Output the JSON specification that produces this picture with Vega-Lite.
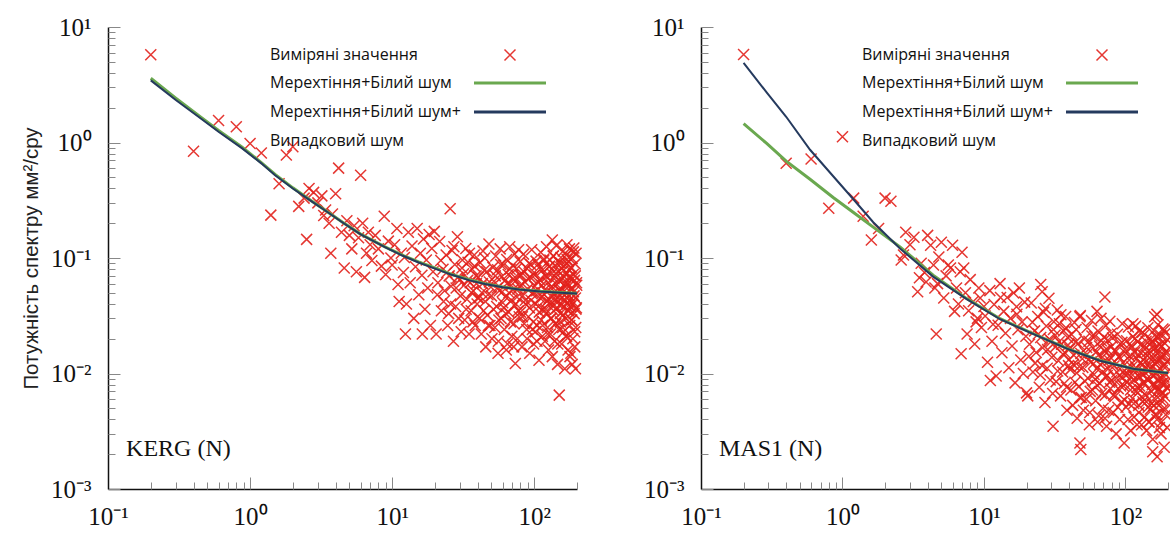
{
  "$schema": "https://vega.github.io/schema/vega-lite/v6.json",
  "padding": {"left": 21, "top": 15, "right": 0, "bottom": 0},
  "spacing": 55,
  "config": {
    "view": {"stroke": null},
    "axis": {"grid": false}
  },
  "datasets": {
    "kergPts": [
      {"f":0.2,"p":5.75},{"f":0.4,"p":0.84},{"f":0.6,"p":1.55},{"f":0.8,"p":1.37},{"f":1.0,"p":0.98},{"f":1.2,"p":0.81},{"f":1.4,"p":0.235},{"f":1.6,"p":0.44},{"f":1.8,"p":0.78},{"f":2.0,"p":0.92},{"f":2.2,"p":0.28},{"f":2.4,"p":0.33},{"f":2.5,"p":0.145},{"f":2.6,"p":0.40},{"f":2.8,"p":0.37},{"f":3.0,"p":0.30},{"f":3.2,"p":0.345},{"f":3.3,"p":0.233},{"f":3.4,"p":0.26},{"f":3.6,"p":0.20},{"f":3.7,"p":0.11},{"f":3.8,"p":0.24},{"f":4.0,"p":0.36},{"f":4.2,"p":0.60},{"f":4.4,"p":0.167},{"f":4.6,"p":0.082},{"f":4.8,"p":0.21},{"f":5.0,"p":0.157},{"f":5.2,"p":0.12},{"f":5.4,"p":0.19},{"f":5.6,"p":0.076},{"f":5.8,"p":0.15},{"f":6.0,"p":0.52},{"f":6.2,"p":0.20},{"f":6.4,"p":0.068},{"f":6.6,"p":0.11},{"f":6.8,"p":0.167},{"f":7.0,"p":0.13},{"f":7.2,"p":0.095},{"f":7.6,"p":0.157},{"f":8.0,"p":0.12},{"f":8.4,"p":0.085},{"f":8.8,"p":0.23},{"f":9.0,"p":0.072},{"f":9.4,"p":0.14},{"f":9.8,"p":0.10},{"f":10.0,"p":0.087},{"f":10.4,"p":0.13},{"f":10.8,"p":0.18},{"f":11.0,"p":0.059},{"f":11.2,"p":0.042},{"f":11.6,"p":0.11},{"f":12.0,"p":0.075},
      {"f":12.2,"p":0.101},{"f":12.4,"p":0.022},{"f":12.6,"p":0.040},{"f":13.0,"p":0.167},{"f":13.4,"p":0.061},{"f":13.8,"p":0.127},{"f":14.2,"p":0.030},{"f":14.6,"p":0.084},{"f":15.0,"p":0.180},{"f":15.4,"p":0.048},{"f":15.8,"p":0.110},{"f":16.2,"p":0.071},{"f":16.3,"p":0.022},{"f":16.6,"p":0.146},{"f":17.0,"p":0.036},{"f":17.4,"p":0.096},{"f":17.8,"p":0.055},{"f":18.2,"p":0.160},{"f":18.6,"p":0.026},{"f":19.0,"p":0.121},{"f":19.4,"p":0.076},{"f":19.8,"p":0.17},
      {"f":20.4,"p":0.022},{"f":21.0,"p":0.061},{"f":21.6,"p":0.139},{"f":22.2,"p":0.035},{"f":22.8,"p":0.080},{"f":23.4,"p":0.052},{"f":24.0,"p":0.106},{"f":24.6,"p":0.026},{"f":25.2,"p":0.070},{"f":25.6,"p":0.267},{"f":25.8,"p":0.040},{"f":26.4,"p":0.116},{"f":27.0,"p":0.019},{"f":27.6,"p":0.088},{"f":28.2,"p":0.055},{"f":28.8,"p":0.153},{"f":29.4,"p":0.030},{"f":30.0,"p":0.065},{"f":30.6,"p":0.023},{"f":31.2,"p":0.096},{"f":31.8,"p":0.073},{"f":32.4,"p":0.029},{"f":33.0,"p":0.121},{"f":33.6,"p":0.044},{"f":34.2,"p":0.092},{"f":34.8,"p":0.022},{"f":35.4,"p":0.061},{"f":36.0,"p":0.035},{"f":36.6,"p":0.080},{"f":37.2,"p":0.052},{"f":37.8,"p":0.106},{"f":38.4,"p":0.026},{"f":39.0,"p":0.070},{"f":39.6,"p":0.040},
      {"f":20.8,"p":0.048},{"f":22.0,"p":0.095},{"f":23.0,"p":0.042},{"f":24.2,"p":0.075},{"f":25.0,"p":0.033},{"f":26.0,"p":0.057},{"f":27.2,"p":0.125},{"f":28.0,"p":0.038},{"f":29.0,"p":0.068},{"f":30.2,"p":0.047},{"f":31.0,"p":0.082},{"f":32.0,"p":0.058},{"f":33.2,"p":0.036},{"f":34.0,"p":0.064},{"f":35.0,"p":0.110},{"f":36.2,"p":0.050},{"f":37.0,"p":0.028},{"f":38.0,"p":0.085},{"f":39.2,"p":0.060},{"f":40.0,"p":0.045},
      {"f":40.8,"p":0.045},{"f":41.6,"p":0.091},{"f":42.4,"p":0.022},{"f":43.2,"p":0.060},{"f":44.0,"p":0.035},{"f":44.8,"p":0.100},{"f":45.6,"p":0.017},{"f":46.4,"p":0.076},{"f":47.2,"p":0.048},{"f":48.0,"p":0.132},{"f":48.8,"p":0.026},{"f":49.6,"p":0.056},{"f":50.4,"p":0.020},{"f":51.2,"p":0.083},{"f":52.0,"p":0.063},{"f":52.8,"p":0.025},{"f":53.6,"p":0.104},{"f":54.4,"p":0.038},{"f":55.2,"p":0.079},{"f":56.0,"p":0.019},{"f":56.8,"p":0.052},{"f":57.6,"p":0.120},{"f":58.4,"p":0.030},{"f":59.2,"p":0.069},{"f":60.0,"p":0.041},{"f":60.8,"p":0.087},{"f":61.6,"p":0.024},{"f":62.4,"p":0.064},{"f":63.2,"p":0.033},{"f":64.0,"p":0.097},{"f":64.8,"p":0.018},{"f":65.6,"p":0.072},{"f":66.4,"p":0.050},{"f":67.2,"p":0.125},{"f":68.0,"p":0.028},{"f":68.8,"p":0.058},{"f":69.6,"p":0.021},{"f":70.4,"p":0.086},{"f":71.2,"p":0.066},{"f":72.0,"p":0.027},{"f":72.8,"p":0.108},{"f":73.6,"p":0.0122},{"f":74.4,"p":0.040},{"f":75.2,"p":0.081},{"f":76.0,"p":0.020},{"f":76.8,"p":0.054},{"f":77.6,"p":0.118},{"f":78.4,"p":0.031},{"f":79.2,"p":0.071},
      {"f":40.4,"p":0.068},{"f":41.2,"p":0.030},{"f":42.8,"p":0.050},{"f":44.4,"p":0.078},{"f":45.2,"p":0.042},{"f":46.8,"p":0.032},{"f":48.4,"p":0.062},{"f":50.0,"p":0.047},{"f":51.6,"p":0.036},{"f":53.2,"p":0.070},{"f":54.8,"p":0.055},{"f":56.4,"p":0.029},{"f":58.0,"p":0.088},{"f":59.6,"p":0.051},{"f":61.2,"p":0.037},{"f":62.8,"p":0.046},{"f":64.4,"p":0.060},{"f":66.0,"p":0.034},{"f":67.6,"p":0.080},{"f":69.2,"p":0.043},{"f":70.8,"p":0.053},{"f":72.4,"p":0.039},{"f":74.0,"p":0.067},{"f":75.6,"p":0.046},{"f":77.2,"p":0.035},{"f":78.8,"p":0.057},{"f":79.6,"p":0.093},{"f":43.6,"p":0.115},{"f":47.6,"p":0.026},{"f":55.6,"p":0.015},{"f":63.6,"p":0.016},{"f":71.6,"p":0.017},
      {"f":80,"p":0.034},{"f":81,"p":0.071},{"f":82,"p":0.017},{"f":83,"p":0.047},{"f":84,"p":0.108},{"f":85,"p":0.027},{"f":86,"p":0.062},{"f":87,"p":0.040},{"f":88,"p":0.082},{"f":89,"p":0.020},{"f":90,"p":0.054},{"f":91,"p":0.031},{"f":92,"p":0.090},{"f":93,"p":0.015},{"f":94,"p":0.068},{"f":95,"p":0.043},{"f":96,"p":0.118},{"f":97,"p":0.024},{"f":98,"p":0.050},{"f":99,"p":0.018},{"f":100,"p":0.075},{"f":101,"p":0.057},{"f":102,"p":0.023},{"f":103,"p":0.094},
      {"f":104,"p":0.052},{"f":105,"p":0.026},{"f":106,"p":0.088},{"f":107,"p":0.038},{"f":108,"p":0.013},{"f":109,"p":0.065},{"f":110,"p":0.045},{"f":111,"p":0.112},{"f":112,"p":0.029},{"f":113,"p":0.058},{"f":114,"p":0.021},{"f":115,"p":0.079},{"f":116,"p":0.036},{"f":117,"p":0.098},{"f":118,"p":0.048},{"f":119,"p":0.019},{"f":120,"p":0.070},{"f":121,"p":0.033},{"f":122,"p":0.125},{"f":123,"p":0.042},{"f":124,"p":0.025},{"f":125,"p":0.061},{"f":126,"p":0.016},{"f":127,"p":0.084},
      {"f":128,"p":0.041},{"f":129,"p":0.096},{"f":130,"p":0.022},{"f":131,"p":0.055},{"f":132,"p":0.030},{"f":133,"p":0.073},{"f":134,"p":0.014},{"f":135,"p":0.049},{"f":136,"p":0.104},{"f":137,"p":0.035},{"f":138,"p":0.066},{"f":139,"p":0.019},{"f":140,"p":0.086},{"f":141,"p":0.044},{"f":142,"p":0.027},{"f":143,"p":0.128},{"f":144,"p":0.059},{"f":145,"p":0.037},{"f":146,"p":0.012},{"f":147,"p":0.077},{"f":148,"p":0.046},{"f":149,"p":0.024},{"f":150,"p":0.091},{"f":151,"p":0.053},
      {"f":152,"p":0.063},{"f":153,"p":0.028},{"f":154,"p":0.101},{"f":155,"p":0.039},{"f":156,"p":0.018},{"f":157,"p":0.081},{"f":158,"p":0.050},{"f":159,"p":0.032},{"f":160,"p":0.115},{"f":161,"p":0.023},{"f":162,"p":0.069},{"f":163,"p":0.044},{"f":164,"p":0.011},{"f":165,"p":0.087},{"f":166,"p":0.056},{"f":167,"p":0.030},{"f":168,"p":0.106},{"f":169,"p":0.021},{"f":170,"p":0.074},{"f":171,"p":0.040},{"f":172,"p":0.060},{"f":173,"p":0.016},{"f":174,"p":0.093},{"f":175,"p":0.035},
      {"f":176,"p":0.047},{"f":177,"p":0.120},{"f":178,"p":0.026},{"f":179,"p":0.067},{"f":180,"p":0.038},{"f":181,"p":0.015},{"f":182,"p":0.083},{"f":183,"p":0.054},{"f":184,"p":0.029},{"f":185,"p":0.099},{"f":186,"p":0.042},{"f":187,"p":0.020},{"f":188,"p":0.072},{"f":189,"p":0.051},{"f":190,"p":0.122},{"f":191,"p":0.033},{"f":192,"p":0.064},{"f":193,"p":0.017},{"f":194,"p":0.089},{"f":195,"p":0.045},{"f":196,"p":0.025},{"f":197,"p":0.110},{"f":198,"p":0.037},{"f":199,"p":0.058},
      {"f":80.5,"p":0.058},{"f":82.5,"p":0.031},{"f":84.5,"p":0.076},{"f":86.5,"p":0.043},{"f":88.5,"p":0.024},{"f":90.5,"p":0.066},{"f":92.5,"p":0.037},{"f":94.5,"p":0.088},{"f":96.5,"p":0.049},{"f":98.5,"p":0.028},{"f":100.5,"p":0.071},{"f":102.5,"p":0.040},{"f":104.5,"p":0.019},{"f":106.5,"p":0.062},{"f":108.5,"p":0.034},{"f":110.5,"p":0.080},{"f":112.5,"p":0.046},{"f":114.5,"p":0.026},{"f":116.5,"p":0.095},{"f":118.5,"p":0.053},{"f":120.5,"p":0.036},{"f":122.5,"p":0.069},{"f":124.5,"p":0.022},{"f":126.5,"p":0.044},{"f":128.5,"p":0.085},{"f":130.5,"p":0.030},{"f":132.5,"p":0.057},{"f":134.5,"p":0.039},{"f":136.5,"p":0.104},{"f":138.5,"p":0.048},{"f":140.5,"p":0.027},{"f":142.5,"p":0.073},{"f":144.5,"p":0.041},{"f":146.5,"p":0.018},{"f":148.5,"p":0.065},{"f":150.5,"p":0.052},{"f":152.5,"p":0.033},{"f":154.5,"p":0.090},{"f":156.5,"p":0.045},{"f":158.5,"p":0.025},{"f":160.5,"p":0.078},{"f":162.5,"p":0.038},{"f":164.5,"p":0.060},{"f":166.5,"p":0.021},{"f":168.5,"p":0.050},{"f":170.5,"p":0.097},{"f":172.5,"p":0.035},{"f":174.5,"p":0.068},{"f":176.5,"p":0.043},{"f":178.5,"p":0.014},{"f":180.5,"p":0.082},{"f":182.5,"p":0.029},{"f":184.5,"p":0.055},{"f":186.5,"p":0.040},{"f":188.5,"p":0.113},{"f":190.5,"p":0.047},{"f":192.5,"p":0.023},{"f":194.5,"p":0.070},{"f":196.5,"p":0.036},{"f":198.5,"p":0.061},
      {"f":134,"p":0.143},{"f":150,"p":0.0065},{"f":170,"p":0.13},{"f":185,"p":0.012},{"f":195,"p":0.011}
    ],
    "kergLines": [
      {"s":"Мерехтіння+Білий шум","f":0.2,"p":3.6},{"s":"Мерехтіння+Білий шум","f":0.3,"p":2.42},{"s":"Мерехтіння+Білий шум","f":0.46,"p":1.62},{"s":"Мерехтіння+Білий шум","f":0.6,"p":1.27},{"s":"Мерехтіння+Білий шум","f":0.88,"p":0.91},{"s":"Мерехтіння+Білий шум","f":1.2,"p":0.67},{"s":"Мерехтіння+Білий шум","f":1.5,"p":0.53},{"s":"Мерехтіння+Білий шум","f":2.0,"p":0.405},{"s":"Мерехтіння+Білий шум","f":2.6,"p":0.323},{"s":"Мерехтіння+Білий шум","f":3.5,"p":0.252},{"s":"Мерехтіння+Білий шум","f":4.45,"p":0.205},{"s":"Мерехтіння+Білий шум","f":6.0,"p":0.161},{"s":"Мерехтіння+Білий шум","f":8.9,"p":0.125},{"s":"Мерехтіння+Білий шум","f":12,"p":0.105},{"s":"Мерехтіння+Білий шум","f":15.5,"p":0.092},{"s":"Мерехтіння+Білий шум","f":20,"p":0.082},{"s":"Мерехтіння+Білий шум","f":26.3,"p":0.072},{"s":"Мерехтіння+Білий шум","f":35,"p":0.065},{"s":"Мерехтіння+Білий шум","f":45,"p":0.06},{"s":"Мерехтіння+Білий шум","f":60,"p":0.056},{"s":"Мерехтіння+Білий шум","f":78.5,"p":0.0535},{"s":"Мерехтіння+Білий шум","f":110,"p":0.0515},{"s":"Мерехтіння+Білий шум","f":164,"p":0.05},{"s":"Мерехтіння+Білий шум","f":200,"p":0.0495},
      {"s":"Мерехтіння+Білий шум+","f":0.2,"p":3.45},{"s":"Мерехтіння+Білий шум+","f":0.3,"p":2.33},{"s":"Мерехтіння+Білий шум+","f":0.46,"p":1.58},{"s":"Мерехтіння+Білий шум+","f":0.6,"p":1.24},{"s":"Мерехтіння+Білий шум+","f":0.88,"p":0.89},{"s":"Мерехтіння+Білий шум+","f":1.2,"p":0.66},{"s":"Мерехтіння+Білий шум+","f":1.5,"p":0.52},{"s":"Мерехтіння+Білий шум+","f":2.0,"p":0.40},{"s":"Мерехтіння+Білий шум+","f":2.6,"p":0.32},{"s":"Мерехтіння+Білий шум+","f":3.5,"p":0.25},{"s":"Мерехтіння+Білий шум+","f":4.45,"p":0.204},{"s":"Мерехтіння+Білий шум+","f":6.0,"p":0.16},{"s":"Мерехтіння+Білий шум+","f":8.9,"p":0.124},{"s":"Мерехтіння+Білий шум+","f":12,"p":0.104},{"s":"Мерехтіння+Білий шум+","f":15.5,"p":0.091},{"s":"Мерехтіння+Білий шум+","f":20,"p":0.081},{"s":"Мерехтіння+Білий шум+","f":26.3,"p":0.0715},{"s":"Мерехтіння+Білий шум+","f":35,"p":0.064},{"s":"Мерехтіння+Білий шум+","f":45,"p":0.0595},{"s":"Мерехтіння+Білий шум+","f":60,"p":0.0558},{"s":"Мерехтіння+Білий шум+","f":78.5,"p":0.0533},{"s":"Мерехтіння+Білий шум+","f":110,"p":0.0513},{"s":"Мерехтіння+Білий шум+","f":164,"p":0.0498},{"s":"Мерехтіння+Білий шум+","f":200,"p":0.0493}
    ],
    "mas1Pts": [
      {"f":0.2,"p":5.77},{"f":0.4,"p":0.66},{"f":0.6,"p":0.72},{"f":0.8,"p":0.27},{"f":1.0,"p":1.12},{"f":1.2,"p":0.33},{"f":1.4,"p":0.23},{"f":1.6,"p":0.143},{"f":1.8,"p":0.18},{"f":2.0,"p":0.33},{"f":2.2,"p":0.31},{"f":2.6,"p":0.096},{"f":2.7,"p":0.106},{"f":2.8,"p":0.167},{"f":3.0,"p":0.13},{"f":3.2,"p":0.151},{"f":3.4,"p":0.051},{"f":3.5,"p":0.0675},{"f":3.6,"p":0.09},{"f":3.8,"p":0.075},{"f":3.9,"p":0.062},{"f":4.0,"p":0.157},{"f":4.2,"p":0.129},{"f":4.4,"p":0.087},{"f":4.5,"p":0.055},{"f":4.6,"p":0.022},{"f":4.7,"p":0.06},{"f":4.8,"p":0.102},{"f":5.0,"p":0.137},{"f":5.2,"p":0.045},{"f":5.4,"p":0.07},{"f":5.6,"p":0.087},{"f":5.8,"p":0.082},{"f":6.0,"p":0.129},{"f":6.2,"p":0.0345},{"f":6.4,"p":0.055},{"f":6.6,"p":0.04},{"f":6.8,"p":0.076},{"f":6.9,"p":0.0148},{"f":7.0,"p":0.112},{"f":7.2,"p":0.082},{"f":7.4,"p":0.05},{"f":7.6,"p":0.022},{"f":7.8,"p":0.035},{"f":8.0,"p":0.065},{"f":8.4,"p":0.042},{"f":8.6,"p":0.018},{"f":8.8,"p":0.028},{"f":9.0,"p":0.03},{"f":9.2,"p":0.055},{"f":9.4,"p":0.045},{"f":9.6,"p":0.025},{"f":10.0,"p":0.038},
      {"f":10.2,"p":0.0315},{"f":10.6,"p":0.0125},{"f":11.0,"p":0.0522},{"f":11.1,"p":0.0087},{"f":11.4,"p":0.019},{"f":11.6,"p":0.0267},{"f":11.8,"p":0.0396},{"f":12.2,"p":0.0095},{"f":12.6,"p":0.0262},{"f":13.0,"p":0.06},{"f":13.1,"p":0.0455},{"f":13.4,"p":0.0151},{"f":13.8,"p":0.0345},{"f":14.2,"p":0.0223},{"f":14.6,"p":0.0455},{"f":15.0,"p":0.0112},{"f":15.4,"p":0.03},{"f":15.8,"p":0.0173},{"f":16.2,"p":0.0499},{"f":16.6,"p":0.0083},{"f":17.0,"p":0.0379},{"f":17.1,"p":0.0326},{"f":17.4,"p":0.0239},{"f":17.8,"p":0.055},{"f":18.2,"p":0.0131},{"f":18.6,"p":0.028},{"f":19.0,"p":0.01},{"f":19.4,"p":0.0415},{"f":19.8,"p":0.021},{"f":20.0,"p":0.0068},
      {"f":20.4,"p":0.0064},{"f":21.0,"p":0.0179},{"f":21.6,"p":0.0407},{"f":22.2,"p":0.0103},{"f":22.8,"p":0.0234},{"f":23.4,"p":0.0152},{"f":24.0,"p":0.0311},{"f":24.6,"p":0.0076},{"f":25.2,"p":0.0205},{"f":25.8,"p":0.0117},{"f":26.4,"p":0.034},{"f":27.0,"p":0.0056},{"f":27.6,"p":0.0258},{"f":28.2,"p":0.0161},{"f":28.8,"p":0.0448},{"f":29.4,"p":0.0088},{"f":30.0,"p":0.019},{"f":30.6,"p":0.0067},{"f":31.2,"p":0.0281},{"f":31.8,"p":0.0214},{"f":32.4,"p":0.0085},{"f":33.0,"p":0.0355},{"f":33.6,"p":0.0129},{"f":34.2,"p":0.027},{"f":34.8,"p":0.0064},{"f":35.4,"p":0.0179},{"f":36.0,"p":0.0103},{"f":36.6,"p":0.0234},{"f":37.2,"p":0.0152},{"f":37.8,"p":0.0311},{"f":38.4,"p":0.0076},{"f":39.0,"p":0.0205},{"f":39.6,"p":0.0117},
      {"f":20.8,"p":0.0141},{"f":22.0,"p":0.0278},{"f":23.0,"p":0.0123},{"f":24.2,"p":0.022},{"f":25.0,"p":0.0097},{"f":26.0,"p":0.0167},{"f":27.2,"p":0.0366},{"f":28.0,"p":0.0111},{"f":29.0,"p":0.0199},{"f":30.2,"p":0.0138},{"f":31.0,"p":0.024},{"f":32.0,"p":0.017},{"f":33.2,"p":0.0105},{"f":34.0,"p":0.0188},{"f":35.0,"p":0.0322},{"f":36.2,"p":0.0147},{"f":37.0,"p":0.0082},{"f":38.0,"p":0.0249},{"f":39.2,"p":0.0176},{"f":40.0,"p":0.0132},
      {"f":25.2,"p":0.059},{"f":25.8,"p":0.051},{"f":30.8,"p":0.0035},{"f":38.6,"p":0.0048},
      {"f":40.8,"p":0.0108},{"f":41.6,"p":0.0218},{"f":42.4,"p":0.0053},{"f":43.2,"p":0.0144},{"f":44.0,"p":0.0084},{"f":44.8,"p":0.024},{"f":45.6,"p":0.0041},{"f":46.4,"p":0.0182},{"f":47.2,"p":0.0115},{"f":48.0,"p":0.0317},{"f":48.8,"p":0.0062},{"f":49.6,"p":0.0134},{"f":50.4,"p":0.0048},{"f":51.2,"p":0.0199},{"f":52.0,"p":0.0151},{"f":52.8,"p":0.006},{"f":53.6,"p":0.025},{"f":54.4,"p":0.0091},{"f":55.2,"p":0.019},{"f":56.0,"p":0.0046},{"f":56.8,"p":0.0125},{"f":57.6,"p":0.0288},{"f":58.4,"p":0.0072},{"f":59.2,"p":0.0166},{"f":60.0,"p":0.0098},{"f":60.8,"p":0.0209},{"f":61.6,"p":0.0058},{"f":62.4,"p":0.0154},{"f":63.2,"p":0.0079},{"f":64.0,"p":0.0233},{"f":64.8,"p":0.0043},{"f":65.6,"p":0.0173},{"f":66.4,"p":0.012},{"f":67.2,"p":0.03},{"f":68.0,"p":0.0067},{"f":68.8,"p":0.0139},{"f":69.6,"p":0.005},{"f":70.4,"p":0.0206},{"f":71.2,"p":0.0158},{"f":72.0,"p":0.0065},{"f":72.8,"p":0.0259},{"f":73.6,"p":0.0035},{"f":74.4,"p":0.0096},{"f":75.2,"p":0.0194},{"f":76.0,"p":0.0048},{"f":76.8,"p":0.013},{"f":77.6,"p":0.0283},{"f":78.4,"p":0.0074},{"f":79.2,"p":0.017},
      {"f":40.4,"p":0.0163},{"f":41.2,"p":0.0072},{"f":42.8,"p":0.012},{"f":44.4,"p":0.0187},{"f":45.2,"p":0.0101},{"f":46.8,"p":0.0077},{"f":48.4,"p":0.0149},{"f":50.0,"p":0.0113},{"f":51.6,"p":0.0086},{"f":53.2,"p":0.0168},{"f":54.8,"p":0.0132},{"f":56.4,"p":0.007},{"f":58.0,"p":0.0211},{"f":59.6,"p":0.0122},{"f":61.2,"p":0.0089},{"f":62.8,"p":0.011},{"f":64.4,"p":0.0144},{"f":66.0,"p":0.0082},{"f":67.6,"p":0.0192},{"f":69.2,"p":0.0103},{"f":70.8,"p":0.0127},{"f":72.4,"p":0.0094},{"f":74.0,"p":0.0161},{"f":75.6,"p":0.011},{"f":77.2,"p":0.0084},{"f":78.8,"p":0.0137},{"f":79.6,"p":0.0223},{"f":43.6,"p":0.0276},{"f":47.6,"p":0.0062},{"f":55.6,"p":0.0036},{"f":63.6,"p":0.0038},{"f":71.6,"p":0.0041},
      {"f":47.6,"p":0.031},{"f":47.7,"p":0.0025},{"f":48.4,"p":0.0022},{"f":63,"p":0.0345},{"f":71.6,"p":0.046},
      {"f":80,"p":0.0087},{"f":81,"p":0.0203},{"f":82,"p":0.0046},{"f":83,"p":0.0116},{"f":84,"p":0.0063},{"f":85,"p":0.0154},{"f":86,"p":0.003},{"f":87,"p":0.0103},{"f":88,"p":0.0219},{"f":89,"p":0.0074},{"f":90,"p":0.0139},{"f":91,"p":0.004},{"f":92,"p":0.0181},{"f":93,"p":0.0093},{"f":94,"p":0.0057},{"f":95,"p":0.027},{"f":96,"p":0.0124},{"f":97,"p":0.0078},{"f":98,"p":0.0025},{"f":99,"p":0.0162},{"f":100,"p":0.0097},{"f":101,"p":0.0051},{"f":102,"p":0.0192},{"f":103,"p":0.0112},
      {"f":104,"p":0.0099},{"f":105,"p":0.0253},{"f":106,"p":0.0055},{"f":107,"p":0.0141},{"f":108,"p":0.008},{"f":109,"p":0.0032},{"f":110,"p":0.0175},{"f":111,"p":0.0114},{"f":112,"p":0.0061},{"f":113,"p":0.0209},{"f":114,"p":0.0089},{"f":115,"p":0.0042},{"f":116,"p":0.0152},{"f":117,"p":0.0108},{"f":118,"p":0.0257},{"f":119,"p":0.007},{"f":120,"p":0.0135},{"f":121,"p":0.0036},{"f":122,"p":0.0188},{"f":123,"p":0.0095},{"f":124,"p":0.0053},{"f":125,"p":0.0232},{"f":126,"p":0.0078},{"f":127,"p":0.0122},
      {"f":128,"p":0.0072},{"f":129,"p":0.015},{"f":130,"p":0.0036},{"f":131,"p":0.0099},{"f":132,"p":0.0228},{"f":133,"p":0.0057},{"f":134,"p":0.0131},{"f":135,"p":0.0084},{"f":136,"p":0.0173},{"f":137,"p":0.0042},{"f":138,"p":0.0114},{"f":139,"p":0.0065},{"f":140,"p":0.019},{"f":141,"p":0.0032},{"f":142,"p":0.0143},{"f":143,"p":0.0091},{"f":144,"p":0.0249},{"f":145,"p":0.0051},{"f":146,"p":0.0106},{"f":147,"p":0.0038},{"f":148,"p":0.0158},{"f":149,"p":0.012},{"f":150,"p":0.0049},{"f":151,"p":0.0198},
      {"f":152,"p":0.011},{"f":153,"p":0.0055},{"f":154,"p":0.0186},{"f":155,"p":0.008},{"f":156,"p":0.0027},{"f":157,"p":0.0137},{"f":158,"p":0.0095},{"f":159,"p":0.0236},{"f":160,"p":0.0061},{"f":161,"p":0.0122},{"f":162,"p":0.0044},{"f":163,"p":0.0167},{"f":164,"p":0.0076},{"f":165,"p":0.0207},{"f":166,"p":0.0101},{"f":167,"p":0.004},{"f":168,"p":0.0148},{"f":169,"p":0.007},{"f":170,"p":0.0264},{"f":171,"p":0.0089},{"f":172,"p":0.0053},{"f":173,"p":0.0129},{"f":174,"p":0.0034},{"f":175,"p":0.0177},
      {"f":176,"p":0.0133},{"f":177,"p":0.0059},{"f":178,"p":0.0213},{"f":179,"p":0.0082},{"f":180,"p":0.0038},{"f":181,"p":0.0171},{"f":182,"p":0.0106},{"f":183,"p":0.0068},{"f":184,"p":0.0243},{"f":185,"p":0.0049},{"f":186,"p":0.0146},{"f":187,"p":0.0093},{"f":188,"p":0.0023},{"f":189,"p":0.0184},{"f":190,"p":0.0118},{"f":191,"p":0.0063},{"f":192,"p":0.0224},{"f":193,"p":0.0044},{"f":194,"p":0.0156},{"f":195,"p":0.0084},{"f":196,"p":0.0127},{"f":197,"p":0.0034},{"f":198,"p":0.0196},{"f":199,"p":0.0074},
      {"f":80.5,"p":0.0122},{"f":82.5,"p":0.0065},{"f":84.5,"p":0.016},{"f":86.5,"p":0.0091},{"f":88.5,"p":0.0051},{"f":90.5,"p":0.0139},{"f":92.5,"p":0.0078},{"f":94.5,"p":0.0186},{"f":96.5,"p":0.0103},{"f":98.5,"p":0.0059},{"f":100.5,"p":0.015},{"f":102.5,"p":0.0084},{"f":104.5,"p":0.004},{"f":106.5,"p":0.0131},{"f":108.5,"p":0.0072},{"f":110.5,"p":0.0169},{"f":112.5,"p":0.0097},{"f":114.5,"p":0.0055},{"f":116.5,"p":0.02},{"f":118.5,"p":0.0112},{"f":120.5,"p":0.0076},{"f":122.5,"p":0.0146},{"f":124.5,"p":0.0046},{"f":126.5,"p":0.0093},{"f":128.5,"p":0.0179},{"f":130.5,"p":0.0063},{"f":132.5,"p":0.012},{"f":134.5,"p":0.0082},{"f":136.5,"p":0.0219},{"f":138.5,"p":0.0101},{"f":140.5,"p":0.0057},{"f":142.5,"p":0.0154},{"f":144.5,"p":0.0087},{"f":146.5,"p":0.0038},{"f":148.5,"p":0.0137},{"f":150.5,"p":0.011},{"f":152.5,"p":0.007},{"f":154.5,"p":0.019},{"f":156.5,"p":0.0095},{"f":158.5,"p":0.0053},{"f":160.5,"p":0.0165},{"f":162.5,"p":0.008},{"f":164.5,"p":0.0127},{"f":166.5,"p":0.0044},{"f":168.5,"p":0.0106},{"f":170.5,"p":0.0205},{"f":172.5,"p":0.0074},{"f":174.5,"p":0.0143},{"f":176.5,"p":0.0091},{"f":178.5,"p":0.003},{"f":180.5,"p":0.0173},{"f":182.5,"p":0.0061},{"f":184.5,"p":0.0116},{"f":186.5,"p":0.0084},{"f":188.5,"p":0.0238},{"f":190.5,"p":0.0099},{"f":192.5,"p":0.0049},{"f":194.5,"p":0.0148},{"f":196.5,"p":0.0076},{"f":198.5,"p":0.0129},
      {"f":113,"p":0.027},{"f":167,"p":0.0325},{"f":161,"p":0.031},{"f":156,"p":0.0021},{"f":167.5,"p":0.0019}
    ],
    "mas1Lines": [
      {"s":"Мерехтіння+Білий шум","f":0.2,"p":1.46},{"s":"Мерехтіння+Білий шум","f":0.29,"p":0.986},{"s":"Мерехтіння+Білий шум","f":0.4,"p":0.69},{"s":"Мерехтіння+Білий шум","f":0.59,"p":0.48},{"s":"Мерехтіння+Білий шум","f":0.86,"p":0.334},{"s":"Мерехтіння+Білий шум","f":1.19,"p":0.249},{"s":"Мерехтіння+Білий шум","f":1.65,"p":0.185},{"s":"Мерехтіння+Білий шум","f":2.55,"p":0.125},{"s":"Мерехтіння+Білий шум","f":4.37,"p":0.071},{"s":"Мерехтіння+Білий шум","f":7.55,"p":0.0445},{"s":"Мерехтіння+Білий шум","f":13,"p":0.0298},{"s":"Мерехтіння+Білий шум","f":22.2,"p":0.0222},{"s":"Мерехтіння+Білий шум","f":38.6,"p":0.0165},{"s":"Мерехтіння+Білий шум","f":66,"p":0.013},{"s":"Мерехтіння+Білий шум","f":113,"p":0.011},{"s":"Мерехтіння+Білий шум","f":184,"p":0.0102},{"s":"Мерехтіння+Білий шум","f":200,"p":0.0101},
      {"s":"Мерехтіння+Білий шум+","f":0.2,"p":4.9},{"s":"Мерехтіння+Білий шум+","f":0.29,"p":2.73},{"s":"Мерехтіння+Білий шум+","f":0.4,"p":1.67},{"s":"Мерехтіння+Білий шум+","f":0.59,"p":0.865},{"s":"Мерехтіння+Білий шум+","f":0.86,"p":0.51},{"s":"Мерехтіння+Білий шум+","f":1.19,"p":0.324},{"s":"Мерехтіння+Білий шум+","f":1.65,"p":0.204},{"s":"Мерехтіння+Білий шум+","f":2.55,"p":0.121},{"s":"Мерехтіння+Білий шум+","f":4.37,"p":0.069},{"s":"Мерехтіння+Білий шум+","f":7.55,"p":0.044},{"s":"Мерехтіння+Білий шум+","f":13,"p":0.0295},{"s":"Мерехтіння+Білий шум+","f":22.2,"p":0.022},{"s":"Мерехтіння+Білий шум+","f":38.6,"p":0.0164},{"s":"Мерехтіння+Білий шум+","f":66,"p":0.0129},{"s":"Мерехтіння+Білий шум+","f":113,"p":0.011},{"s":"Мерехтіння+Білий шум+","f":184,"p":0.0102},{"s":"Мерехтіння+Білий шум+","f":200,"p":0.0101}
    ]
  },
  "hconcat": [
    {
      "width": 469,
      "height": 462,
      "resolve": {"axis": {"x": "independent", "y": "independent"}},
      "layer": [
        {
          "data": {"name": "kergPts"},
          "mark": {"type": "point", "filled": false, "color": "#e3221c", "size": 121, "strokeWidth": 1.5, "opacity": 0.9},
          "encoding": {
            "x": {"field": "f", "type": "quantitative", "scale": {"type": "log", "domain": [0.1, 200], "nice": false},
              "axis": {"title": null, "orient": "bottom", "values": [0.1, 1, 10, 100],
                "labelExpr": "datum.value === 0.1 ? '10⁻¹' : datum.value === 1 ? '10⁰' : datum.value === 10 ? '10¹' : '10²'",
                "ticks": false, "tickSize": 0, "labelPadding": 15, "labelFlush": false, "labelOverlap": false, "labelFont": "Liberation Serif", "labelFontSize": 25, "labelColor": "#111",
                "domainColor": "#111", "domainWidth": 1.5}},
            "y": {"field": "p", "type": "quantitative", "scale": {"type": "log", "domain": [0.001, 10], "nice": false},
              "axis": {"title": "Потужність спектру мм²/сру", "orient": "left", "values": [0.001, 0.01, 0.1, 1, 10],
                "labelExpr": "datum.value === 0.001 ? '10⁻³' : datum.value === 0.01 ? '10⁻²' : datum.value === 0.1 ? '10⁻¹' : datum.value === 1 ? '10⁰' : '10¹'",
                "ticks": false, "tickSize": 0, "labelPadding": 17, "labelFlush": false, "labelOverlap": false, "labelFont": "Liberation Serif", "labelFontSize": 25, "labelColor": "#111",
                "minExtent": 60, "maxExtent": 60, "titlePadding": 7, "titleFont": "Liberation Sans", "titleFontSize": 20.5, "titleFontWeight": "normal", "titleColor": "#222",
                "domainColor": "#111", "domainWidth": 1.5}},
            "shape": {"datum": "Виміряні значення", "type": "nominal",
              "scale": {"domain": ["Виміряні значення"], "range": ["M-1,-1L1,1M-1,1L1,-1"]},
              "legend": {"orient": "none", "legendX": 394, "legendY": 20, "title": null, "symbolSize": 121, "symbolStrokeColor": "#e3221c", "symbolFillColor": "transparent", "symbolStrokeWidth": 1.5,
                "labelFont": "Open Sans", "labelFontSize": 16, "labelColor": "#111", "labelAlign": "left", "labelOffset": -248, "labelLimit": 0}}
          }
        },
        {
          "data": {"name": "kergLines"},
          "transform": [{"filter": "datum.s === 'Мерехтіння+Білий шум'"}],
          "mark": {"type": "line", "strokeWidth": 3},
          "encoding": {
            "x": {"field": "f", "type": "quantitative", "axis": {"title": null, "orient": "top", "offset": -462, "values": [0.1, 1, 10, 100], "labels": false, "domain": false, "ticks": true, "tickSize": 12}},
            "y": {"field": "p", "type": "quantitative", "axis": {"title": null, "orient": "right", "offset": -469, "values": [0.001, 0.01, 0.1, 1, 10], "labels": false, "domain": false, "ticks": true, "tickSize": 12}},
            "color": {"field": "s", "type": "nominal", "title": null,
              "scale": {"domain": ["Мерехтіння+Білий шум", "Мерехтіння+Білий шум+", "Випадковий шум"], "range": ["#6aa84f", "#253a5e", "transparent"]},
              "legend": {"orient": "none", "legendX": 390.5, "legendY": 44.5, "title": null, "symbolType": "M-3.6,0L3.6,0", "symbolSize": 400, "symbolStrokeWidth": 3,
                "labelFont": "Open Sans", "labelFontSize": 16, "labelColor": "#111", "labelAlign": "left", "labelOffset": -251.5, "labelLimit": 0, "rowPadding": 9}}}
        },
        {
          "data": {"name": "kergLines"},
          "transform": [{"filter": "datum.s === 'Мерехтіння+Білий шум+'"}],
          "mark": {"type": "line", "strokeWidth": 2},
          "encoding": {
            "x": {"field": "f", "type": "quantitative", "axis": {"title": null, "orient": "top", "offset": -462, "values": [0.2,0.3,0.4,0.5,0.6,0.7,0.8,0.9,2,3,4,5,6,7,8,9,20,30,40,50,60,70,80,90,200], "labels": false, "domain": false, "ticks": true, "tickSize": 7}},
            "y": {"field": "p", "type": "quantitative", "axis": {"title": null, "orient": "right", "offset": -469, "values": [0.002,0.003,0.004,0.005,0.006,0.007,0.008,0.009,0.02,0.03,0.04,0.05,0.06,0.07,0.08,0.09,0.2,0.3,0.4,0.5,0.6,0.7,0.8,0.9,2,3,4,5,6,7,8,9], "labels": false, "domain": false, "ticks": true, "tickSize": 7}},
            "color": {"field": "s", "type": "nominal", "title": null}}
        },
        {
          "data": {"values": [{}]},
          "mark": {"type": "text", "align": "left", "baseline": "middle", "font": "Liberation Serif", "fontSize": 24, "color": "#111"},
          "encoding": {"x": {"datum": 0.134, "axis": null}, "y": {"datum": 0.0022, "axis": null}, "text": {"value": "KERG (N)"}}
        }
      ]
    },
    {
      "width": 467,
      "height": 462,
      "resolve": {"axis": {"x": "independent", "y": "independent"}},
      "layer": [
        {
          "data": {"name": "mas1Pts"},
          "mark": {"type": "point", "filled": false, "color": "#e3221c", "size": 121, "strokeWidth": 1.5, "opacity": 0.9},
          "encoding": {
            "x": {"field": "f", "type": "quantitative", "scale": {"type": "log", "domain": [0.1, 200], "nice": false},
              "axis": {"title": null, "orient": "bottom", "values": [0.1, 1, 10, 100],
                "labelExpr": "datum.value === 0.1 ? '10⁻¹' : datum.value === 1 ? '10⁰' : datum.value === 10 ? '10¹' : '10²'",
                "ticks": false, "tickSize": 0, "labelPadding": 15, "labelFlush": false, "labelOverlap": false, "labelFont": "Liberation Serif", "labelFontSize": 25, "labelColor": "#111",
                "domainColor": "#111", "domainWidth": 1.5}},
            "y": {"field": "p", "type": "quantitative", "scale": {"type": "log", "domain": [0.001, 10], "nice": false},
              "axis": {"title": null, "orient": "left", "values": [0.001, 0.01, 0.1, 1, 10],
                "labelExpr": "datum.value === 0.001 ? '10⁻³' : datum.value === 0.01 ? '10⁻²' : datum.value === 0.1 ? '10⁻¹' : datum.value === 1 ? '10⁰' : '10¹'",
                "ticks": false, "tickSize": 0, "labelPadding": 17, "labelFlush": false, "labelOverlap": false, "labelFont": "Liberation Serif", "labelFontSize": 25, "labelColor": "#111",
                "minExtent": 60, "maxExtent": 60,
                "domainColor": "#111", "domainWidth": 1.5}},
            "shape": {"datum": "Виміряні значення", "type": "nominal",
              "scale": {"domain": ["Виміряні значення"], "range": ["M-1,-1L1,1M-1,1L1,-1"]},
              "legend": {"orient": "none", "legendX": 393, "legendY": 20, "title": null, "symbolSize": 121, "symbolStrokeColor": "#e3221c", "symbolFillColor": "transparent", "symbolStrokeWidth": 1.5,
                "labelFont": "Open Sans", "labelFontSize": 16, "labelColor": "#111", "labelAlign": "left", "labelOffset": -248, "labelLimit": 0}}
          }
        },
        {
          "data": {"name": "mas1Lines"},
          "transform": [{"filter": "datum.s === 'Мерехтіння+Білий шум'"}],
          "mark": {"type": "line", "strokeWidth": 3},
          "encoding": {
            "x": {"field": "f", "type": "quantitative", "axis": {"title": null, "orient": "top", "offset": -462, "values": [0.1, 1, 10, 100], "labels": false, "domain": false, "ticks": true, "tickSize": 12}},
            "y": {"field": "p", "type": "quantitative", "axis": {"title": null, "orient": "right", "offset": -467, "values": [0.001, 0.01, 0.1, 1, 10], "labels": false, "domain": false, "ticks": true, "tickSize": 12}},
            "color": {"field": "s", "type": "nominal", "title": null,
              "scale": {"domain": ["Мерехтіння+Білий шум", "Мерехтіння+Білий шум+", "Випадковий шум"], "range": ["#6aa84f", "#253a5e", "transparent"]},
              "legend": {"orient": "none", "legendX": 389.5, "legendY": 44.5, "title": null, "symbolType": "M-3.6,0L3.6,0", "symbolSize": 400, "symbolStrokeWidth": 3,
                "labelFont": "Open Sans", "labelFontSize": 16, "labelColor": "#111", "labelAlign": "left", "labelOffset": -251.5, "labelLimit": 0, "rowPadding": 9}}}
        },
        {
          "data": {"name": "mas1Lines"},
          "transform": [{"filter": "datum.s === 'Мерехтіння+Білий шум+'"}],
          "mark": {"type": "line", "strokeWidth": 2},
          "encoding": {
            "x": {"field": "f", "type": "quantitative", "axis": {"title": null, "orient": "top", "offset": -462, "values": [0.2,0.3,0.4,0.5,0.6,0.7,0.8,0.9,2,3,4,5,6,7,8,9,20,30,40,50,60,70,80,90,200], "labels": false, "domain": false, "ticks": true, "tickSize": 7}},
            "y": {"field": "p", "type": "quantitative", "axis": {"title": null, "orient": "right", "offset": -467, "values": [0.002,0.003,0.004,0.005,0.006,0.007,0.008,0.009,0.02,0.03,0.04,0.05,0.06,0.07,0.08,0.09,0.2,0.3,0.4,0.5,0.6,0.7,0.8,0.9,2,3,4,5,6,7,8,9], "labels": false, "domain": false, "ticks": true, "tickSize": 7}},
            "color": {"field": "s", "type": "nominal", "title": null}}
        },
        {
          "data": {"values": [{}]},
          "mark": {"type": "text", "align": "left", "baseline": "middle", "font": "Liberation Serif", "fontSize": 24, "color": "#111"},
          "encoding": {"x": {"datum": 0.134, "axis": null}, "y": {"datum": 0.0022, "axis": null}, "text": {"value": "MAS1 (N)"}}
        }
      ]
    }
  ],
  "resolve": {"scale": {"color": "independent", "shape": "independent"}, "legend": {"color": "independent", "shape": "independent"}}
}
